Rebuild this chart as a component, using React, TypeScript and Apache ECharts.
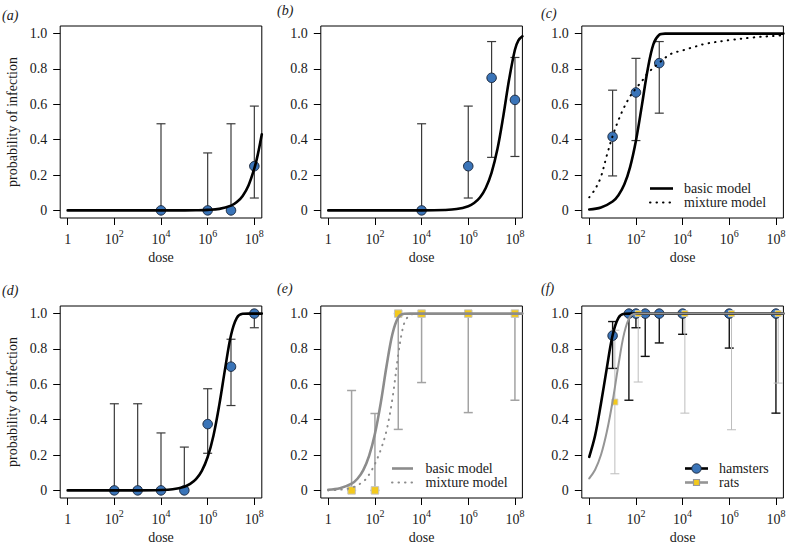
import React, { useEffect, useRef } from "react";
import * as echarts from "echarts";

// ---------- axis ticks ----------
const X_TICKS = [0, 2, 4, 6, 8]; // log10(dose)
const Y_TICKS = [0, 0.2, 0.4, 0.6, 0.8, 1.0];
const X_MIN = -0.32;
const X_MAX = 8.32;
const Y_MIN = -0.043;
const Y_MAX = 1.043;

// ---------- panel (a) ----------
const aDose = [1e4, 1e6, 1e7, 1e8];
const aProb = [0, 0, 0, 0.25];
const aLow = [0, 0, 0, 0.07];
const aHigh = [0.49, 0.325, 0.49, 0.59];
const aCurveLog = [0, 4, 5, 5.5, 6, 6.5, 7, 7.25, 7.5, 7.75, 8, 8.15, 8.32];
const aCurveProb = [0, 0, 0.0003, 0.0009, 0.0027, 0.0085, 0.027, 0.047, 0.082, 0.141, 0.237, 0.317, 0.431];

// ---------- panel (b) ----------
const bDose = [1e4, 1e6, 1e7, 1e8];
const bProb = [0, 0.25, 0.75, 0.625];
const bLow = [0, 0.07, 0.3, 0.305];
const bHigh = [0.49, 0.59, 0.955, 0.865];
const bCurveLog = [0, 4, 5, 5.5, 6, 6.25, 6.5, 6.75, 7, 7.25, 7.5, 7.75, 8, 8.15, 8.32];
const bCurveProb = [0, 0.0002, 0.0024, 0.0076, 0.024, 0.042, 0.073, 0.127, 0.214, 0.347, 0.532, 0.74, 0.909, 0.962, 0.985];

// ---------- panel (c) ----------
const cDose = [10, 100, 1000];
const cProb = [0.417, 0.667, 0.833];
const cLow = [0.195, 0.395, 0.55];
const cHigh = [0.68, 0.86, 0.955];
const cBasicLog = [0, 0.5, 1, 1.25, 1.5, 1.75, 2, 2.25, 2.5, 2.75, 3, 3.25, 3.5, 4, 8.32];
const cBasicProb = [0.005, 0.016, 0.05, 0.086, 0.146, 0.245, 0.394, 0.59, 0.794, 0.94, 0.993, 1, 1, 1, 1];
const cMixLog = [0, 0.25, 0.5, 0.75, 1, 1.25, 1.5, 1.75, 2, 2.25, 2.5, 3, 3.5, 4, 4.5, 5, 6, 7, 8, 8.32];
const cMixProb = [0.074, 0.12, 0.19, 0.31, 0.42, 0.51, 0.585, 0.645, 0.69, 0.73, 0.775, 0.835, 0.885, 0.905, 0.925, 0.943, 0.963, 0.978, 0.988, 0.991];

// ---------- panel (d) ----------
const dDose = [1e2, 1e3, 1e4, 1e5, 1e6, 1e7, 1e8];
const dProb = [0, 0, 0, 0, 0.375, 0.7, 1.0];
const dLow = [0, 0, 0, 0, 0.21, 0.48, 0.92];
const dHigh = [0.49, 0.49, 0.325, 0.245, 0.575, 0.855, 1.0];
const dCurveLog = [0, 3, 4, 4.5, 5, 5.25, 5.5, 5.75, 6, 6.25, 6.5, 6.75, 7, 7.25, 7.5, 7.75, 8, 8.32];
const dCurveProb = [0, 0.0002, 0.0021, 0.0066, 0.021, 0.037, 0.064, 0.111, 0.189, 0.311, 0.485, 0.69, 0.878, 0.976, 0.9987, 1, 1, 1];

// ---------- panel (e) ----------
const eDose = [10, 100, 1000, 1e4, 1e6, 1e8];
const eProb = [0, 0, 1, 1, 1, 1];
const eLow = [0, 0, 0.345, 0.61, 0.44, 0.51];
const eHigh = [0.565, 0.435, 1, 1, 1, 1];
const eBasicLog = [0, 0.5, 1, 1.25, 1.5, 1.75, 2, 2.25, 2.5, 2.75, 3, 3.25, 3.5, 4, 8.32];
const eBasicProb = [0.004, 0.012, 0.038, 0.066, 0.115, 0.195, 0.32, 0.495, 0.705, 0.885, 0.979, 0.999, 1, 1, 1];
const eMixLog = [0, 0.5, 1, 1.5, 1.75, 2, 2.25, 2.5, 2.75, 3, 3.15, 3.3, 3.5, 3.75, 4];
const eMixProb = [0, 0.004, 0.015, 0.05, 0.09, 0.15, 0.23, 0.34, 0.52, 0.77, 0.89, 0.96, 0.99, 1, 1];

// ---------- panel (f) ----------
const fHamDose = [10, 50, 100, 250, 1000, 1e4, 1e6, 1e8];
const fHamProb = [0.875, 1, 1, 1, 1, 1, 1, 1];
const fHamLow = [0.69, 0.51, 0.92, 0.758, 0.834, 0.883, 0.805, 0.437];
const fHamHigh = [0.955, 1, 1, 1, 1, 1, 1, 1];
const fRatDose = [12.5, 125, 12500, 1.25e6, 1.25e8];
const fRatProb = [0.5, 1, 1, 1, 1];
const fRatLow = [0.094, 0.613, 0.437, 0.343, 0.607];
const fRatHigh = [0.906, 1, 1, 1, 1];
const fHamCurveLog = [0, 0.25, 0.5, 0.75, 1, 1.25, 1.5, 1.75, 2, 8.32];
const fHamCurveProb = [0.19, 0.31, 0.49, 0.69, 0.878, 0.976, 0.999, 1, 1, 1];
const fRatCurveLog = [0, 0.25, 0.5, 0.75, 1, 1.25, 1.5, 1.75, 2, 2.25, 8.32];
const fRatCurveProb = [0.068, 0.117, 0.2, 0.33, 0.503, 0.71, 0.891, 0.984, 0.999, 1, 1];

const PANEL_LABELS = ["(a)", "(b)", "(c)", "(d)", "(e)", "(f)"];
const X_NAME = "dose";
const Y_NAME = "probability of infection";

// ---------- styling ----------
const FONT = "Liberation Serif";
const TXT = "#1a1a1a";
const BLUE = "#3a74b8";
const BLUE_EDGE = "#1c2a40";
const YELLOW = "#f3c91c";
const GRID_LEFTS = [60.2, 320.8, 581.8];
const GRID_TOPS = [26, 306];
const GRID_W = 201.6;
const GRID_H = 192;

const pairs = (xs: number[], ys: number[]) => xs.map((x, i) => [x, ys[i]]);
const logPairs = (ds: number[], ys: number[]) => ds.map((d, i) => [Math.log10(d), ys[i]]);

function curve(idx: number, xs: number[], ys: number[], color: string, width: number, dash?: any) {
  return {
    type: "line",
    xAxisIndex: idx,
    yAxisIndex: idx,
    data: pairs(xs, ys),
    symbol: "none",
    smooth: 0.35,
    silent: true,
    lineStyle: dash
      ? { color, width, type: dash, cap: "round" }
      : { color, width, cap: "round", join: "round" },
  };
}

function errBars(idx: number, ds: number[], lo: number[], hi: number[], color: string, width: number) {
  return {
    type: "custom",
    xAxisIndex: idx,
    yAxisIndex: idx,
    silent: true,
    clip: false,
    data: ds.map((d, i) => [Math.log10(d), lo[i], hi[i]]),
    encode: { x: 0, y: [1, 2] },
    renderItem: (params: any, api: any) => {
      const x = api.value(0);
      const pl = api.coord([x, api.value(1)]);
      const ph = api.coord([x, api.value(2)]);
      const c = 4.5;
      const style = { stroke: color, lineWidth: width, fill: "none" };
      return {
        type: "group",
        children: [
          { type: "line", shape: { x1: pl[0], y1: pl[1], x2: ph[0], y2: ph[1] }, style },
          { type: "line", shape: { x1: pl[0] - c, y1: pl[1], x2: pl[0] + c, y2: pl[1] }, style },
          { type: "line", shape: { x1: ph[0] - c, y1: ph[1], x2: ph[0] + c, y2: ph[1] }, style },
        ],
      };
    },
  };
}

function dots(idx: number, ds: number[], ys: number[], kind: "circle" | "rect", size: number, fill: string, edge: string, ew: number) {
  return {
    type: "scatter",
    xAxisIndex: idx,
    yAxisIndex: idx,
    silent: true,
    data: logPairs(ds, ys),
    symbol: kind,
    symbolSize: size,
    clip: false,
    itemStyle: { color: fill, borderColor: edge, borderWidth: ew, opacity: 1 },
  };
}

export default function App() {
  const ref = useRef<HTMLDivElement>(null);

  useEffect(() => {
    if (!ref.current) return;
    const chart = echarts.init(ref.current, undefined, { renderer: "svg" });

    const grids: any[] = [];
    const xAxes: any[] = [];
    const yAxes: any[] = [];
    for (let i = 0; i < 6; i++) {
      const row = Math.floor(i / 3);
      const col = i % 3;
      grids.push({
        left: GRID_LEFTS[col],
        top: GRID_TOPS[row],
        width: GRID_W,
        height: GRID_H,
        show: true,
        borderColor: "#000",
        borderWidth: 1,
        backgroundColor: "transparent",
        containLabel: false,
        outerBoundsMode: "none",
      });
      xAxes.push({
        type: "value",
        gridIndex: i,
        min: X_MIN,
        max: X_MAX,
        axisLine: { show: false, onZero: false },
        splitLine: { show: false },
        axisTick: { show: true, length: 7, inside: false, customValues: X_TICKS, lineStyle: { color: "#000", width: 1 } },
        axisLabel: {
          customValues: X_TICKS,
          margin: 10,
          formatter: (v: number) => (v === 0 ? "{b|1}" : "{b|10}{s|" + v + "}"),
          rich: {
            b: { fontFamily: FONT, fontSize: 14, color: TXT, lineHeight: 18, verticalAlign: "bottom" },
            s: { fontFamily: FONT, fontSize: 10, color: TXT, lineHeight: 6, verticalAlign: "top" },
          },
        },
        name: X_NAME,
        nameLocation: "middle",
        nameGap: 32,
        nameMoveOverlap: false,
        nameTextStyle: { fontFamily: FONT, fontSize: 14, color: TXT },
      });
      yAxes.push({
        type: "value",
        gridIndex: i,
        min: Y_MIN,
        max: Y_MAX,
        axisLine: { show: false, onZero: false },
        splitLine: { show: false },
        axisTick: { show: true, length: 7, inside: false, customValues: Y_TICKS, lineStyle: { color: "#000", width: 1 } },
        axisLabel: {
          customValues: Y_TICKS,
          margin: 13,
          fontFamily: FONT,
          fontSize: 14,
          color: TXT,
          formatter: (v: number) => (Math.abs(v) < 1e-9 ? "0" : v.toFixed(1)),
        },
        name: col === 0 ? Y_NAME : "",
        nameLocation: "middle",
        nameGap: 41,
        nameMoveOverlap: false,
        nameTextStyle: { fontFamily: FONT, fontSize: 14, color: TXT },
      });
    }

    const errDark = "#3a3a3a";
    const series: any[] = [
      // (a)
      curve(0, aCurveLog, aCurveProb, "#000", 2.6),
      errBars(0, aDose, aLow, aHigh, errDark, 1.2),
      dots(0, aDose, aProb, "circle", 9.5, BLUE, BLUE_EDGE, 1),
      // (b)
      curve(1, bCurveLog, bCurveProb, "#000", 2.6),
      errBars(1, bDose, bLow, bHigh, errDark, 1.2),
      dots(1, bDose, bProb, "circle", 9.5, BLUE, BLUE_EDGE, 1),
      // (c)
      curve(2, cBasicLog, cBasicProb, "#000", 2.6),
      curve(2, cMixLog, cMixProb, "#000", 2, [0.5, 6]),
      errBars(2, cDose, cLow, cHigh, errDark, 1.2),
      dots(2, cDose, cProb, "circle", 9.5, BLUE, BLUE_EDGE, 1),
      // (d)
      curve(3, dCurveLog, dCurveProb, "#000", 2.6),
      errBars(3, dDose, dLow, dHigh, errDark, 1.2),
      dots(3, dDose, dProb, "circle", 9.5, BLUE, BLUE_EDGE, 1),
      // (e)
      curve(4, eMixLog, eMixProb, "#8c8c8c", 2, [0.5, 6]),
      curve(4, eBasicLog, eBasicProb, "#8c8c8c", 2.6),
      errBars(4, eDose, eLow, eHigh, "#a3a3a3", 1.5),
      dots(4, eDose, eProb, "rect", 7.5, YELLOW, "#c4c4c4", 1),
      // (f)
      curve(5, fHamCurveLog, fHamCurveProb, "#000", 2.6),
      curve(5, fRatCurveLog, fRatCurveProb, "#959595", 2),
      errBars(5, fHamDose, fHamLow, fHamHigh, "#111", 1.4),
      errBars(5, fRatDose, fRatLow, fRatHigh, "#bdbdbd", 1),
      dots(5, fHamDose, fHamProb, "circle", 9.5, BLUE, BLUE_EDGE, 1),
      dots(5, fRatDose, fRatProb, "rect", 6, YELLOW, "#cfcfcf", 0.8),
    ];

    const txt = (x: number, y: number, text: string, italic = false) => ({
      type: "text",
      x,
      y,
      silent: true,
      style: {
        text,
        fontFamily: FONT,
        fontSize: 14,
        fontStyle: italic ? "italic" : "normal",
        fill: TXT,
        verticalAlign: "middle",
        align: "left",
      },
    });
    const seg = (x1: number, x2: number, y: number, stroke: string, lineWidth: number, dash?: number[]) => ({
      type: "line",
      silent: true,
      shape: { x1, y1: y, x2, y2: y },
      style: dash ? { stroke, lineWidth, lineDash: dash, lineCap: "round" } : { stroke, lineWidth },
    });

    const graphics: any[] = [
      txt(2, 15, PANEL_LABELS[0], true),
      txt(277, 10, PANEL_LABELS[1], true),
      txt(541, 13, PANEL_LABELS[2], true),
      txt(2, 290, PANEL_LABELS[3], true),
      txt(277, 288, PANEL_LABELS[4], true),
      txt(541, 288, PANEL_LABELS[5], true),
      // legend (c)
      seg(650, 673, 188.5, "#000", 2.6),
      txt(684, 188.5, "basic model"),
      seg(650, 673, 202.5, "#000", 2, [0.5, 6]),
      txt(684, 202.5, "mixture model"),
      // legend (e)
      seg(392, 413, 468.5, "#8c8c8c", 2.6),
      txt(425.5, 468.5, "basic model"),
      seg(392, 413, 482.5, "#8c8c8c", 2, [0.5, 6]),
      txt(425.5, 482.5, "mixture model"),
      // legend (f)
      seg(685, 708, 468.5, "#000", 2.6),
      { type: "circle", silent: true, shape: { cx: 696.5, cy: 468.5, r: 4.7 }, style: { fill: BLUE, stroke: BLUE_EDGE, lineWidth: 1 } },
      txt(719, 468.5, "hamsters"),
      seg(685, 708, 482.5, "#959595", 2.6),
      { type: "rect", silent: true, shape: { x: 693.5, y: 479.5, width: 6, height: 6 }, style: { fill: YELLOW, stroke: "#9a9a9a", lineWidth: 1.2 } },
      txt(719, 482.5, "rats"),
    ];

    chart.setOption({
      animation: false,
      backgroundColor: "#fff",
      textStyle: { fontFamily: FONT },
      grid: grids,
      xAxis: xAxes,
      yAxis: yAxes,
      series,
      graphic: graphics,
    });
    return () => chart.dispose();
  }, []);

  return (
    <div
      ref={ref}
      style={{ position: "fixed", left: 0, top: 0, width: 786, height: 547, background: "#fff" }}
    />
  );
}
